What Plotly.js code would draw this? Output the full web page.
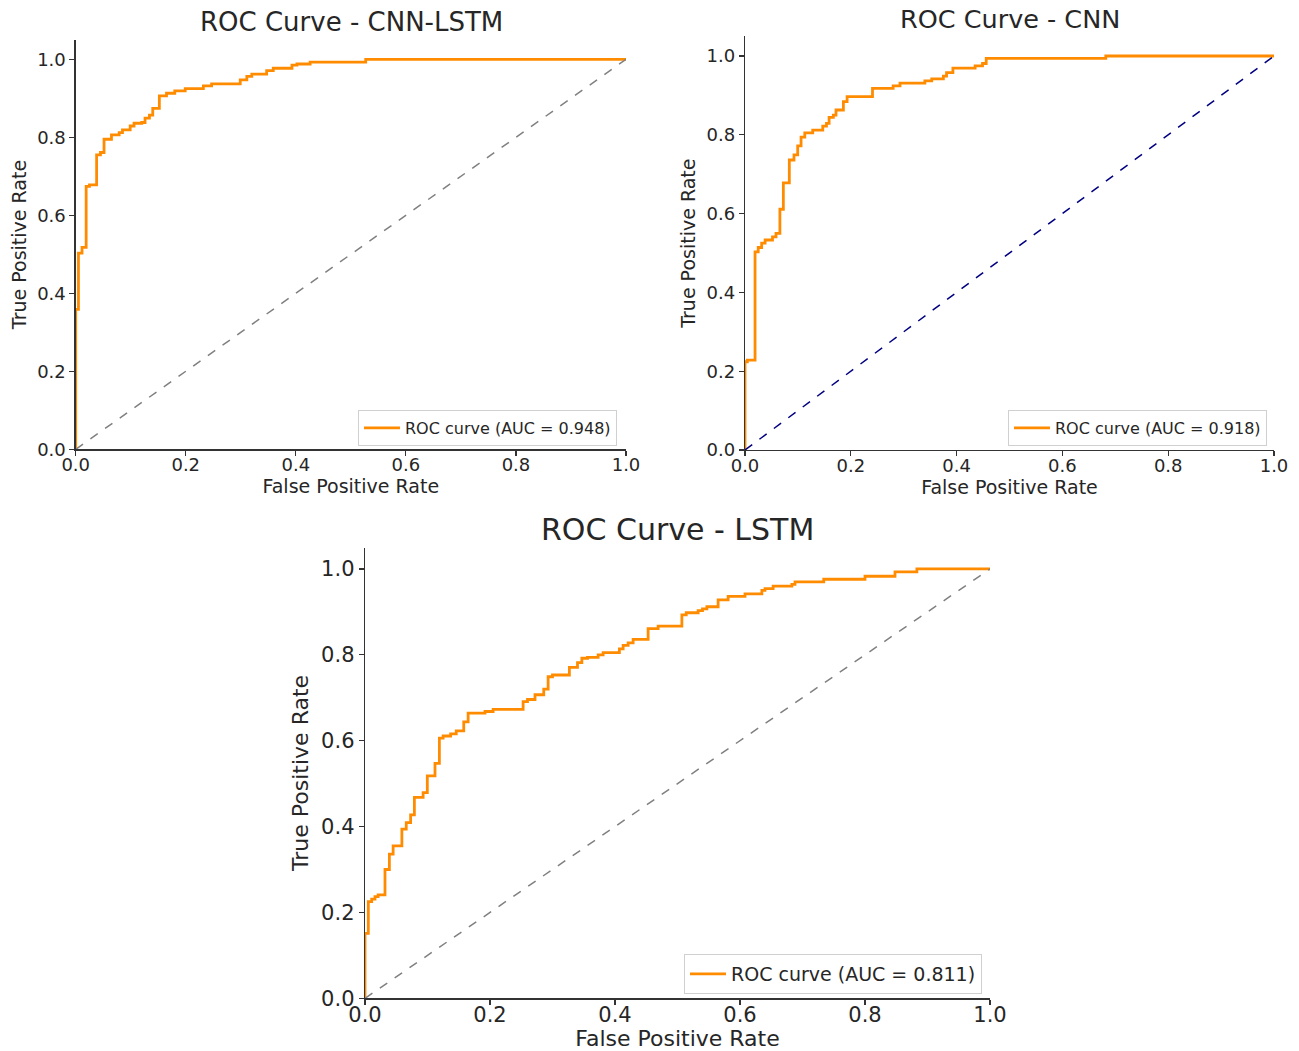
<!DOCTYPE html>
<html>
<head>
<meta charset="utf-8">
<script src="https://cdn.plot.ly/plotly-3.0.1.min.js"></script>
<style>html,body{margin:0;padding:0;background:#fff;}#chart{width:1299px;height:1051px;}</style>
</head>
<body>
<div id="chart"></div>
<script>
// ---- Data ----
const cnnLstmFpr = [0, 0, 0.005, 0.0115, 0.019, 0.025, 0.038, 0.045, 0.0515, 0.065, 0.079, 0.085, 0.099, 0.106, 0.12, 0.126, 0.134, 0.14, 0.152, 0.165, 0.18, 0.199, 0.232, 0.247, 0.299, 0.311, 0.32, 0.347, 0.359, 0.393, 0.402, 0.426, 0.527, 1.0];
const cnnLstmTpr = [0, 0.359, 0.503, 0.518, 0.674, 0.678, 0.755, 0.761, 0.795, 0.806, 0.812, 0.819, 0.829, 0.836, 0.838, 0.849, 0.857, 0.874, 0.906, 0.913, 0.919, 0.925, 0.932, 0.937, 0.947, 0.956, 0.962, 0.971, 0.977, 0.985, 0.988, 0.993, 1.0, 1.0];

const cnnFpr = [0, 0, 0.0044, 0.019, 0.025, 0.0315, 0.038, 0.052, 0.0586, 0.066, 0.0725, 0.0838, 0.0926, 0.0996, 0.106, 0.113, 0.128, 0.147, 0.154, 0.159, 0.167, 0.172, 0.186, 0.193, 0.241, 0.28, 0.293, 0.34, 0.353, 0.375, 0.381, 0.393, 0.435, 0.449, 0.456, 0.682, 1.0];
const cnnTpr = [0, 0.224, 0.228, 0.503, 0.514, 0.525, 0.533, 0.541, 0.55, 0.611, 0.678, 0.736, 0.749, 0.772, 0.794, 0.805, 0.812, 0.822, 0.829, 0.844, 0.85, 0.863, 0.884, 0.897, 0.918, 0.924, 0.931, 0.937, 0.942, 0.949, 0.958, 0.969, 0.975, 0.981, 0.994, 1.0, 1.0];

const lstmFpr = [0, 0, 0.0053, 0.0107, 0.016, 0.021, 0.032, 0.039, 0.045, 0.059, 0.066, 0.073, 0.079, 0.093, 0.0997, 0.112, 0.119, 0.125, 0.137, 0.146, 0.158, 0.165, 0.192, 0.205, 0.253, 0.26, 0.272, 0.286, 0.293, 0.3, 0.327, 0.34, 0.347, 0.356, 0.373, 0.381, 0.407, 0.413, 0.421, 0.429, 0.453, 0.469, 0.507, 0.514, 0.533, 0.54, 0.547, 0.565, 0.581, 0.608, 0.635, 0.64, 0.653, 0.683, 0.688, 0.734, 0.80, 0.848, 0.883, 1.0];
const lstmTpr = [0, 0.151, 0.225, 0.231, 0.237, 0.241, 0.30, 0.336, 0.355, 0.394, 0.409, 0.427, 0.468, 0.479, 0.518, 0.547, 0.606, 0.611, 0.616, 0.623, 0.644, 0.664, 0.668, 0.673, 0.691, 0.696, 0.707, 0.72, 0.749, 0.753, 0.771, 0.782, 0.792, 0.794, 0.80, 0.805, 0.814, 0.822, 0.828, 0.836, 0.861, 0.867, 0.893, 0.898, 0.903, 0.907, 0.912, 0.928, 0.936, 0.942, 0.95, 0.954, 0.96, 0.964, 0.97, 0.976, 0.983, 0.993, 1.0, 1.0];

const chanceLine = [0, 1];
const modelNames = ["CNN-LSTM", "CNN", "LSTM"];
const aucValues = [0.948, 0.918, 0.811];
const tickValues = [0, 0.2, 0.4, 0.6, 0.8, 1.0];
const tickLabels = ["0.0", "0.2", "0.4", "0.6", "0.8", "1.0"];

// ---- Styling ----
const FONT = "DejaVu Sans, Verdana, sans-serif";
const TXT = "#262626";
const ORANGE = "#ff8c00";

function rocTrace(x, y, ax, ay, lg, i) {
  return {x: x, y: y, xaxis: ax, yaxis: ay, type: "scatter", mode: "lines",
    line: {color: ORANGE, width: 2.8, shape: "hv"},
    name: "ROC curve (AUC = " + aucValues[i].toFixed(3) + ")", legend: lg, hoverinfo: "x+y"};
}
function diagTrace(ax, ay, color) {
  return {x: chanceLine, y: chanceLine, xaxis: ax, yaxis: ay, type: "scatter", mode: "lines",
    line: {color: color, width: 1.5, dash: "dash"}, showlegend: false, hoverinfo: "skip"};
}

const traces = [
  rocTrace(cnnLstmFpr, cnnLstmTpr, "x", "y", "legend", 0),
  diagTrace("x", "y", "#808080"),
  rocTrace(cnnFpr, cnnTpr, "x2", "y2", "legend2", 1),
  diagTrace("x2", "y2", "#000080"),
  rocTrace(lstmFpr, lstmTpr, "x3", "y3", "legend3", 2),
  diagTrace("x3", "y3", "#808080")
];

function xAxis(domain, anchor, fs, tfs, standoff, lso) {
  return {domain: domain, anchor: anchor, range: [0, 1], tickvals: tickValues, ticktext: tickLabels,
    showgrid: false, zeroline: false, showline: true, linecolor: "#333", linewidth: 1.3,
    ticks: "outside", ticklen: 5, tickwidth: 1.2, tickcolor: "#333", ticklabelstandoff: lso,
    tickfont: {family: FONT, size: fs, color: TXT},
    title: {text: "False Positive Rate", font: {family: FONT, size: tfs, color: TXT}, standoff: standoff}};
}
function yAxis(domain, anchor, fs, tfs, standoff) {
  return {domain: domain, anchor: anchor, range: [0, 1.05], tickvals: tickValues, ticktext: tickLabels,
    showgrid: false, zeroline: false, showline: true, linecolor: "#333", linewidth: 1.3,
    ticks: "outside", ticklen: 5, tickwidth: 1.2, tickcolor: "#333",
    tickfont: {family: FONT, size: fs, color: TXT},
    title: {text: "True Positive Rate", font: {family: FONT, size: tfs, color: TXT}, standoff: standoff}};
}
function legendBox(xr, yb, fs) {
  return {x: xr, y: yb, xanchor: "right", yanchor: "bottom", bgcolor: "rgba(255,255,255,0.9)",
    bordercolor: "#d0d0d0", borderwidth: 1, font: {family: FONT, size: fs, color: TXT},
    itemwidth: 36, tracegroupgap: 0};
}
function titleAnn(text, x, y, fs) {
  return {text: text, xref: "paper", yref: "paper", x: x, y: y, xanchor: "center", yanchor: "middle",
    showarrow: false, font: {family: FONT, size: fs, color: TXT}};
}

const W = 1299, H = 1051;
const layout = {
  width: W, height: H, margin: {l: 0, r: 0, t: 0, b: 0},
  paper_bgcolor: "#fff", plot_bgcolor: "#fff", showlegend: true,
  xaxis: xAxis([75.7 / W, 626 / W], "y", 18, 19, 3, -6),
  yaxis: yAxis([1 - 449.3 / H, 1 - 39.8 / H], "x", 18, 19, 5),
  xaxis2: xAxis([745 / W, 1274 / W], "y2", 18, 19, 3, -6),
  yaxis2: yAxis([1 - 450 / H, 1 - 36.3 / H], "x2", 18, 19, 5),
  xaxis3: xAxis([365 / W, 990 / W], "y3", 21, 22, 3, -8),
  yaxis3: yAxis([1 - 998.3 / H, 1 - 547.5 / H], "x3", 21, 22, 6),
  legend: legendBox(617 / W, 1 - 446 / H, 16),
  legend2: legendBox(1267 / W, 1 - 446 / H, 16),
  legend3: legendBox(982 / W, 1 - 994 / H, 19),
  annotations: [
    titleAnn("ROC Curve - " + modelNames[0], 351 / W, 1 - 22 / H, 26),
    titleAnn("ROC Curve - " + modelNames[1], 1010 / W, 1 - 19 / H, 25.5),
    titleAnn("ROC Curve - " + modelNames[2], 677 / W, 1 - 529 / H, 30)
  ]
};

Plotly.newPlot("chart", traces, layout, {displayModeBar: false, staticPlot: true});
</script>
</body>
</html>
